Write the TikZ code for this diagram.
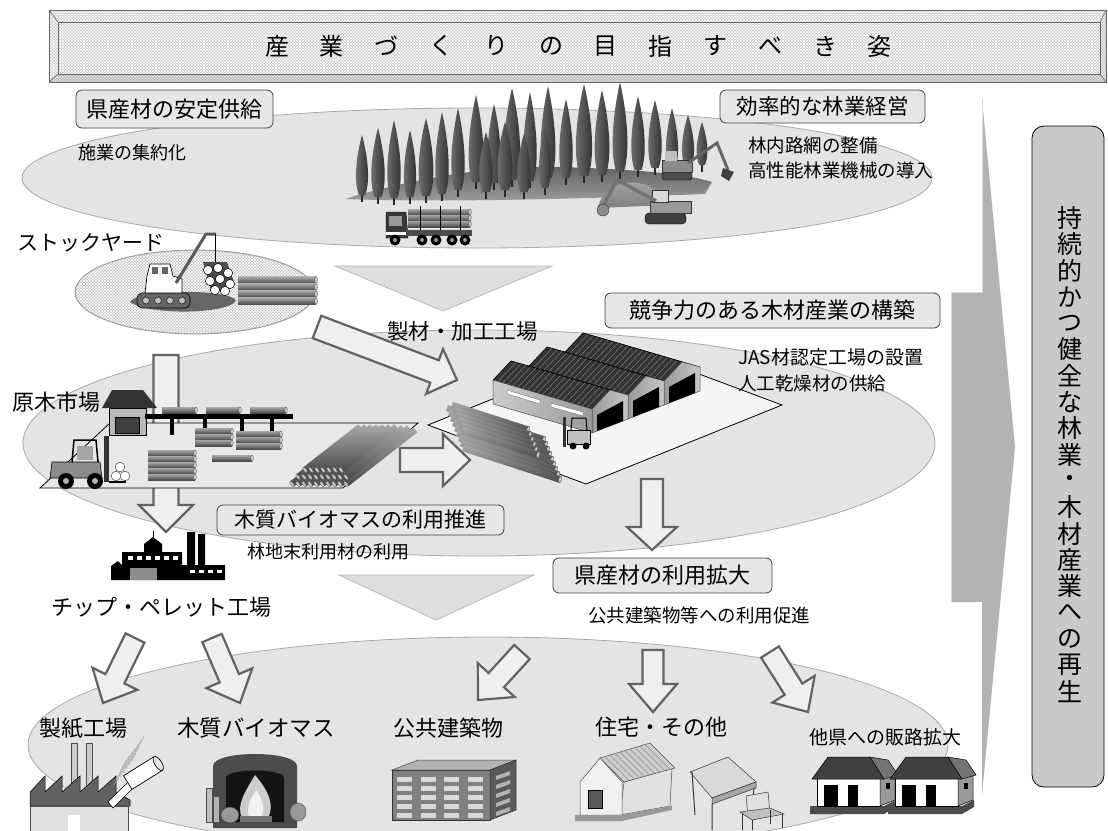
\documentclass[tikz,border=0pt]{standalone}
\usepackage{fontspec}
\setmainfont{Noto Sans CJK JP}
\usetikzlibrary{patterns}
\definecolor{ellfill}{HTML}{E4E4E4}
\definecolor{ellline}{HTML}{A8A8A8}
\definecolor{arrfill}{HTML}{EFEFEF}
\definecolor{arrline}{HTML}{626262}
\definecolor{boxfill}{HTML}{E6E6E6}
\definecolor{tri}{HTML}{DEDEDE}
\definecolor{triline}{HTML}{B8B8B8}
\definecolor{bigarr}{HTML}{B3B3B3}
\definecolor{goalbox}{HTML}{C9C9C9}
\definecolor{treeL}{HTML}{7A7A7A}
\definecolor{treeD}{HTML}{262626}
\definecolor{logL}{HTML}{A8A8A8}
\definecolor{logD}{HTML}{4A4A4A}
\definecolor{logEnd}{HTML}{CACACA}
\definecolor{bannerbase}{HTML}{C8C8C8}

\tikzset{
  blockarrow/.style={fill=arrfill, draw=arrline, line width=2.2pt, line join=miter},
  lbox/.style={draw=black!75, fill=boxfill, rounded corners=6pt, inner sep=0pt, line width=0.8pt},
  areaell/.style={fill=ellfill, draw=ellline, line width=0.8pt},
  txt/.style={inner sep=0pt, anchor=west},
  ctxt/.style={inner sep=0pt},
}
\newcommand\fs[1]{\fontsize{#1}{#1}\selectfont}

% block arrow: start x,y; tip x,y; shaft half width; head half width; head length
\newcommand\blockarr[7]{%
  \pgfmathsetmacro\baang{atan2(-(#4-#2),#3-#1)}%
  \pgfmathsetmacro\balen{veclen(#3-#1,#4-#2)}%
  \pgfmathsetmacro\bahb{\balen-#7}%
  \begin{scope}[shift={(#1,#2)}, rotate=\baang]
    \draw[blockarrow] (0,#5) -- (\bahb,#5) -- (\bahb,#6) -- (\balen,0)
      -- (\bahb,-#6) -- (\bahb,-#5) -- (0,-#5) -- cycle;
  \end{scope}}

% conifer: x, top, base, half width
\newcommand\conifer[4]{%
  \pgfmathsetmacro\ch{#3-#2}%
  \pgfmathsetmacro\cya{#2+0.3*\ch}\pgfmathsetmacro\cyb{#2+0.75*\ch}%
  \pgfmathsetmacro\cxr{#1+#4}\pgfmathsetmacro\cxl{#1-#4}%
  \pgfmathsetmacro\cxrr{#1+0.55*#4}\pgfmathsetmacro\cxll{#1-0.55*#4}%
  \pgfmathsetmacro\cbr{#1+0.35*#4}\pgfmathsetmacro\cbl{#1-0.35*#4}%
  \draw[treeD, line width=1.3pt] (#1,#3-4) -- (#1,#3+7);
  \shade[left color=treeL, right color=treeD] (#1,#2) .. controls (\cxrr,\cya) and (\cxr,\cyb) .. (\cbr,#3)
     -- (\cbl,#3) .. controls (\cxl,\cyb) and (\cxll,\cya) .. (#1,#2) -- cycle;}

% log lying along x: x from, x to (end face), y, radius
\newcommand\logpiece[4]{%
  \pgfmathsetmacro\lgr{0.45*#4}%
  \shade[top color=logL, bottom color=logD] (#1,#3-#4) rectangle (#2,#3+#4);
  \filldraw[draw=logD, fill=logEnd, line width=0.3pt] (#2,#3) ellipse [x radius=\lgr, y radius=#4];}

\begin{document}
\begin{tikzpicture}[x=1pt,y=-1pt]
\useasboundingbox (0,0) rectangle (1108,830);
\fill[white] (0,0) rectangle (1108,830);

% ---------- areas
\path[areaell] (488,745) ellipse [x radius=460, y radius=108];
\path[areaell] (479,443) ellipse [x radius=456, y radius=113];
\path[areaell] (477,178) ellipse [x radius=455, y radius=70];

% ---------- flow triangles
\filldraw[fill=tri, draw=triline, line width=0.8pt] (335,266) -- (552,266) -- (443,311) -- cycle;
\filldraw[fill=tri, draw=triline, line width=0.8pt] (339,575) -- (534,575) -- (436,620) -- cycle;

% ---------- title banner
\fill[bannerbase] (49,10) rectangle (1106,82);
\fill[pattern=crosshatch, pattern color=white] (49,10) rectangle (1106,82);
\fill[black, opacity=0.10] (49,82) -- (58,74) -- (1100,74) -- (1106,82) -- cycle;
\fill[black, opacity=0.05] (1106,10) -- (1100,22) -- (1100,74) -- (1106,82) -- cycle;
\draw[black!60, line width=0.8pt] (49,10) rectangle (1106,82);
\draw[black!60, line width=0.8pt] (58,22) rectangle (1100,74);
\draw[black!60, line width=0.6pt] (49,10) -- (58,22) (1106,10) -- (1100,22) (49,82) -- (58,74) (1106,82) -- (1100,74);
\foreach \c [count=\k from 0] in {産,業,づ,く,り,の,目,指,す,べ,き,姿}
  \node[ctxt, font=\fs{24}] (ttl\k) at (277+54.8*\k,46) {\c};

% ---------- forest
\shade[top color=black!62, bottom color=black!38] (345,199) .. controls (420,176) and (500,165) .. (560,167)
   .. controls (620,169) and (680,172) .. (712,182) -- (705,194) .. controls (600,198) and (450,203) .. (345,199) -- cycle;
\foreach \x/\t/\b/\w in {476/95/182/11, 512/88/180/12, 548/86/178/11, 584/84/176/12, 620/82/172/11,
   655/100/168/10, 688/115/166/9, 494/104/183/10, 530/92/181/10, 566/99/178/10, 602/90/175/11,
   638/96/170/10, 672/108/168/9, 702/122/165/8}
  \conifer{\x}{\t}{\b}{\w};
\shade[top color=black!30, bottom color=black!50] (598,208) .. controls (602,180) and (650,170) .. (668,205) -- cycle;
\foreach \x/\t/\b/\w in {362/135/195/9, 378/128/197/10, 394/120/198/10, 410/130/197/9, 426/118/196/11,
   442/112/194/10, 458/108/190/10, 486/132/192/10, 505/122/190/11, 524/134/192/10, 545/126/188/9}
  \conifer{\x}{\t}{\b}{\w};

% log truck
\filldraw[fill=black!78, draw=black] (386,212) -- (406,212) -- (408,238) -- (386,238) -- cycle;
\fill[black!40] (389,216) rectangle (402,226);
\fill[white] (386,232) rectangle (406,235);
\foreach \y in {212,218,224} \logpiece{408}{470}{\y}{3};
\foreach \x in {420,440,460} \draw[black, line width=1pt] (\x,206) -- (\x,232);
\fill[black!70] (406,230) rectangle (472,236);
\foreach \x in {395,422,436,452,465} {\fill[black] (\x,240) circle [radius=5.5]; \fill[black!40] (\x,240) circle [radius=2];}

% excavators
\filldraw[fill=black!70, draw=black, rounded corners=3pt] (662,172) rectangle (692,180);
\filldraw[fill=black!45, draw=black!80] (662,160) rectangle (692,172);
\fill[black!25] (665,151) rectangle (677,161);
\draw[black!60, line width=3pt] (688,163) -- (717,143) -- (728,170);
\fill[black!75] (723,168) -- (734,172) -- (729,181) -- (721,176) -- cycle;
\filldraw[fill=black!75, draw=black, rounded corners=4pt] (645,213) rectangle (686,224);
\filldraw[fill=black!40, draw=black!80] (650,201) rectangle (691,213);
\filldraw[fill=black!15, draw=black!80] (652,190) rectangle (668,202);
\draw[black!55, line width=3.5pt] (656,201) -- (617,180) -- (603,206);
\filldraw[fill=black!45, draw=black!80] (603,210) circle [radius=6];

% ---------- stockyard
\filldraw[fill=black!24, draw=black!40, line width=0.8pt] (195,292) ellipse [x radius=120, y radius=42];
\fill[pattern=crosshatch, pattern color=white] (195,292) ellipse [x radius=119, y radius=41];
\fill[black!60] (130,302) .. controls (135,290) and (225,288) .. (236,300) .. controls (232,314) and (150,316) .. (130,302) -- cycle;
\filldraw[fill=black!60, draw=black, rounded corners=5pt, line width=0.6pt] (137,293) rectangle (190,308);
\foreach \x in {146,158,170,182} \filldraw[fill=black!25, draw=black, line width=0.4pt] (\x,300.5) circle [radius=3.5];
\filldraw[fill=white, draw=black, line width=0.7pt] (147,276) -- (150,264) -- (170,264) -- (173,276) -- (182,279) -- (182,293) -- (145,293) -- cycle;
\fill[black!60] (152,267) rectangle (158,274);
\fill[black!60] (162,267) rectangle (168,274);
\draw[black!65, line width=3pt] (176,283) -- (206,234) -- (216,234);
\draw[black, line width=0.8pt] (215,234) -- (215,262);
\fill[black!70] (203,262) -- (227,262) -- (235,285) -- (212,294) -- cycle;
\foreach \x/\y in {208/270, 218/268, 228/273, 210/281, 220/279, 230/284, 215/290, 225/291}
  \filldraw[fill=white, draw=black, line width=0.5pt] (\x,\y) circle [radius=4.6];
\foreach \y in {280,287,294,301} \logpiece{238}{316}{\y}{3.3};

% ---------- log market
\blockarr{166}{355}{166}{532}{12.5}{27}{27}
\filldraw[fill=black!9, draw=black, line width=0.8pt] (40,488) -- (110,423) -- (418,423) -- (343,488) -- cycle;
\fill[black!80] (112,390) -- (143,390) -- (157,408) -- (102,408) -- cycle;
\filldraw[fill=black!28, draw=black] (109,408) rectangle (146,435);
\filldraw[fill=black!75, draw=black] (115,417) rectangle (139,433);
\fill[black] (145,414) rectangle (293,419);
\foreach \x in {172,205,242,272} \fill[black] (\x-2,419) rectangle (\x+2,435);
\logpiece{162}{196}{410}{3}
\logpiece{206}{240}{410}{3}
\logpiece{250}{286}{410}{3}
\foreach \y in {431,437,443} \logpiece{195}{232}{\y}{3};
\foreach \y in {434,440,446} \logpiece{236}{281}{\y}{3};
\foreach \y in {453,459,465,471,477} \logpiece{148}{195}{\y}{3};
\logpiece{212}{252}{458}{3}
% diagonal pile of logs
\foreach \j in {0,...,9} {
  \begin{scope}[shift={(292+6*\j,484)}, rotate=38] \logpiece{88}{0}{0}{3.2} \end{scope}}
\foreach \j in {0,...,8} {
  \begin{scope}[shift={(298+6*\j,477)}, rotate=38] \logpiece{80}{0}{0}{3.2} \end{scope}}
\foreach \j in {0,...,6} {
  \begin{scope}[shift={(305+6*\j,470)}, rotate=38] \logpiece{70}{0}{0}{3.2} \end{scope}}
% forklift
\filldraw[fill=black!45, draw=black, line width=0.6pt] (52,462) -- (100,462) -- (102,478) -- (50,478) -- cycle;
\draw[black, line width=1.5pt] (72,462) -- (74,440) -- (96,440) -- (98,462);
\fill[black!35] (77,446) rectangle (93,460);
\fill[black!80] (104,436) rectangle (109,482);
\draw[black, line width=1.5pt] (109,482) -- (126,482);
\foreach \x/\y in {116/476, 125/476, 120/467} \filldraw[fill=white, draw=black!70, line width=0.5pt] (\x,\y) circle [radius=4.8];
\foreach \x in {66,95} {\fill[black] (\x,481) circle [radius=8]; \fill[black!30] (\x,481) circle [radius=3];}

\blockarr{400}{460}{470}{460}{12}{26}{27}

% ---------- sawmill
\blockarr{317}{327}{457}{380}{12}{24}{24}
\filldraw[fill=black!4, draw=black, line width=0.8pt] (428,425) -- (624,346) -- (782,405) -- (586,484) -- cycle;
\foreach \i in {2,1,0} {
  \pgfmathsetmacro\bx{592+36*\i}
  \pgfmathsetmacro\by{433-14*\i}
  \pgfmathsetmacro\rx{\bx+36}
  \pgfmathsetmacro\ry{\by-14}
  \pgfmathsetmacro\ax{\bx+18}
  \pgfmathsetmacro\ay{\by-43}
  \pgfmathsetmacro\ely{\by-24}
  \pgfmathsetmacro\ery{\ry-24}
  \filldraw[fill=black!70, draw=black, line width=0.5pt] (\ax,\ay) -- (\rx,\ery) -- (\rx-99,\ery-29) -- (\ax-99,\ay-29) -- cycle;
  \filldraw[fill=black!80, draw=black, line width=0.5pt] (\bx,\ely) -- (\ax,\ay) -- (\ax-99,\ay-29) -- (\bx-99,\ely-29) -- cycle;
  \foreach \t in {0.05,0.1,...,0.96} \draw[black!45, line width=0.4pt] (\bx-99*\t,\ely-29*\t) -- (\ax-99*\t,\ay-29*\t);
  \shade[left color=black!40, right color=black!22] (\bx,\by) -- (\rx,\ry) -- (\rx,\ery) -- (\ax,\ay) -- (\bx,\ely) -- cycle;
  \draw[black!70, line width=0.5pt] (\bx,\by) -- (\rx,\ry) -- (\rx,\ery) -- (\ax,\ay) -- (\bx,\ely) -- cycle;
  \fill[black] (\bx+5,\by-2) -- (\rx-5,\ry+2) -- (\rx-5,\ery+6) -- (\bx+5,\ely+6) -- cycle;
}
\shade[left color=black!20, right color=black!40] (592,433) -- (592,409) -- (493,380) -- (493,404) -- cycle;
\draw[black!70, line width=0.5pt] (592,433) -- (592,409) -- (493,380) -- (493,404) -- cycle;
\filldraw[fill=white, draw=black!50, line width=0.5pt] (540,404) -- (507,394) -- (507,390) -- (540,400) -- cycle;
\filldraw[fill=white, draw=black!50, line width=0.5pt] (583,416) -- (551,407) -- (551,403) -- (583,412) -- cycle;
\foreach \j in {0,...,8} {
  \begin{scope}[shift={(447+2*\j,408+5*\j)}, rotate=-18] \logpiece{0}{102}{0}{3.3} \end{scope}}
\foreach \j in {0,...,5} {
  \begin{scope}[shift={(452+2*\j,405+5*\j)}, rotate=-18] \logpiece{0}{80}{0}{3.3} \end{scope}}
\filldraw[fill=black!25, draw=black, line width=0.5pt] (567,430) rectangle (590,444);
\draw[black, line width=1pt] (571,430) -- (572,418) -- (586,418) -- (587,430);
\fill[black!80] (563,417) rectangle (566,447);
\foreach \x in {573,586} \fill[black] (\x,446) circle [radius=3.5];

\blockarr{652}{479}{652}{550}{11}{25}{23}

% ---------- chip and pellet plant
\fill[black] (111,580) -- (111,566) -- (118,561) -- (122,565) -- (122,552) -- (144,552) -- (144,544)
   -- (153,537) -- (162,544) -- (162,552) -- (182,552) -- (182,565) -- (187,565) -- (187,532) -- (195,532)
   -- (195,565) -- (198,565) -- (198,534) -- (205,534) -- (205,565) -- (225,565) -- (225,580) -- cycle;
\draw[black, line width=1pt] (153,537) -- (153,531);
\foreach \x in {128,137,146,155,164,173} \fill[white] (\x,556) rectangle (\x+5,560);
\foreach \x in {190,199,208,217} \fill[white] (\x,570) rectangle (\x+5,573);
\fill[black!45] (130,568) rectangle (157,580);

% ---------- end uses
\blockarr{135}{638}{103}{703}{10.5}{25}{27}
\blockarr{212}{638}{240}{703}{10.5}{25}{27}
\blockarr{522}{652}{478}{700}{10.5}{25}{27}
\blockarr{653}{650}{653}{712}{10.5}{24}{28}
\blockarr{770}{652}{808}{712}{10.5}{25}{27}

% paper mill
\filldraw[fill=black!20, draw=black!70, line width=0.5pt] (71,743) rectangle (77,792);
\filldraw[fill=black!20, draw=black!70, line width=0.5pt] (86,743) rectangle (92,792);
\filldraw[fill=black!62, draw=black, line width=0.5pt] (30,806) -- (30,792) -- (45,776) -- (45,792) -- (62,776) -- (62,792)
   -- (80,776) -- (80,792) -- (98,776) -- (98,792) -- (116,776) -- (116,792) -- (130,800) -- (130,806) -- cycle;
\filldraw[fill=black!12, draw=black!70, line width=0.5pt] (30,806) rectangle (128,832);
\fill[white] (68,815) rectangle (80,832);
\foreach \k in {0,...,6} \draw[black!35, line width=0.5pt] (114+3*\k,785-4*\k) -- (126+3*\k,760-4*\k);
\filldraw[fill=white, draw=black, line width=0.6pt] (128,782) -- (108,802) -- (113,808) -- (133,788) -- cycle;
\begin{scope}[shift={(143,773)}, rotate=32]
  \filldraw[fill=white, draw=black, line width=0.7pt] (-18,-8) rectangle (18,8);
  \filldraw[fill=white!90!black, draw=black, line width=0.7pt] (18,0) ellipse [x radius=3.5, y radius=8];
\end{scope}

% fireplace
\fill[black!70] (213,828) -- (213,766) .. controls (213,750) and (297,750) .. (297,766) -- (297,828) -- cycle;
\fill[black!92] (226,822) -- (226,778) .. controls (226,768) and (284,768) .. (284,778) -- (284,822) -- cycle;
\fill[black!20] (255,775) .. controls (268,790) and (275,805) .. (268,818) -- (242,818) .. controls (236,805) and (245,792) .. (255,775) -- cycle;
\fill[white!95!black] (256,790) .. controls (263,800) and (265,810) .. (261,817) -- (249,817) .. controls (246,808) and (250,800) .. (256,790) -- cycle;
\fill[black!55] (240,816) rectangle (272,822);
\filldraw[fill=black!25, draw=black!70, line width=0.4pt] (206,788) rectangle (212,822);
\filldraw[fill=black!30, draw=black!70, line width=0.4pt] (213,796) rectangle (219,822);
\filldraw[fill=black!40, draw=black!70, line width=0.4pt] (298,812) ellipse [x radius=8, y radius=9];
\filldraw[fill=black!40, draw=black!80, line width=0.4pt] (230,815) ellipse [x radius=9, y radius=8];

% public building
\filldraw[fill=black!30, draw=black!70, line width=0.5pt] (392,770) -- (418,760) -- (516,760) -- (490,770) -- cycle;
\filldraw[fill=black!50, draw=black!80, line width=0.5pt] (392,770) rectangle (490,820);
\filldraw[fill=black!65, draw=black!80, line width=0.5pt] (490,770) -- (516,760) -- (516,810) -- (490,820) -- cycle;
\foreach \r in {0,...,4} \foreach \c in {0,...,3} \fill[white!85!black] (397+23.5*\c,777+9*\r) rectangle (412+23.5*\c,782+9*\r);
\foreach \r in {0,...,4} \fill[white!70!black] (496,776+9*\r) -- (510,771+9*\r) -- (510,775+9*\r) -- (496,780+9*\r) -- cycle;

% house
\filldraw[fill=black!12, draw=black!70, line width=0.5pt] (624,782) -- (672,768) -- (670,806) -- (620,815) -- cycle;
\filldraw[fill=black!20, draw=black!70, line width=0.5pt] (600,758) -- (650,743) -- (675,768) -- (624,782) -- cycle;
\foreach \t in {0.1,0.2,...,0.95} \draw[black!45, line width=0.4pt] (600+50*\t,758-15*\t) -- (624+51*\t,782-14*\t);
\filldraw[fill=black!6, draw=black!70, line width=0.5pt] (580,782) -- (600,758) -- (622,782) -- (622,815) -- (580,815) -- cycle;
\filldraw[fill=black!65, draw=black] (588,790) rectangle (602,808);
\fill[black!40] (575,815) -- (622,815) -- (672,806) -- (672,810) -- (622,821) -- (575,821) -- cycle;

% desk and chair
\filldraw[fill=black!15, draw=black!80, line width=0.5pt] (690,772) -- (728,757) -- (756,782) -- (712,798) -- cycle;
\filldraw[fill=black!35, draw=black!80, line width=0.5pt] (712,798) -- (756,782) -- (756,788) -- (712,804) -- cycle;
\draw[black!80, line width=1pt] (692,772) -- (695,815) (712,804) -- (712,830) (754,788) -- (752,812);
\filldraw[fill=black!12, draw=black!80, line width=0.5pt] (746,796) -- (768,792) -- (770,812) -- (748,816) -- cycle;
\filldraw[fill=black!25, draw=black!80, line width=0.5pt] (740,812) -- (770,808) -- (784,814) -- (752,820) -- cycle;
\draw[black!80, line width=1pt] (742,813) -- (742,830) (752,820) -- (752,830) (782,815) -- (782,828) (770,810) -- (770,824);

% houses for other prefectures
\foreach \dx in {0,78} {
  \fill[black!70] (810+\dx,806) -- (884+\dx,806) -- (896+\dx,800) -- (896+\dx,807) -- (884+\dx,814) -- (810+\dx,814) -- cycle;
  \filldraw[fill=white, draw=black, line width=0.5pt] (817+\dx,778) rectangle (880+\dx,806);
  \filldraw[fill=black!40, draw=black, line width=0.5pt] (880+\dx,778) -- (895+\dx,774) -- (895+\dx,800) -- (880+\dx,806) -- cycle;
  \filldraw[fill=black!75, draw=black, line width=0.5pt] (812+\dx,779) -- (828+\dx,757) -- (870+\dx,757) -- (884+\dx,779) -- cycle;
  \filldraw[fill=black!55, draw=black, line width=0.5pt] (870+\dx,757) -- (888+\dx,760) -- (898+\dx,775) -- (884+\dx,779) -- cycle;
  \fill[black] (824+\dx,785) rectangle (838+\dx,806);
  \fill[black] (848+\dx,785) rectangle (858+\dx,806);
  \fill[black] (886+\dx,783) rectangle (890+\dx,789);
}

% ---------- overall direction and goal
\fill[bigarr] (951,292) -- (982,292) -- (982,99) -- (1015,447) -- (982,795) -- (982,602) -- (951,602) -- cycle;
\draw[black!15, line width=0.8pt] (951,602) -- (951,292) -- (982,292) -- (982,99);
\draw[fill=goalbox, line width=0.8pt, rounded corners=12pt] (1032,126) rectangle (1104,787);
\foreach \c [count=\k from 0] in {持,続,的,か,つ,健,全,な,林,業,・,木,材,産,業,へ,の,再,生}
  \node[ctxt, font=\fs{25}] (g\k) at (1070,218+26.3*\k) {\c};

% ---------- labels
\node[lbox, minimum width=197pt, minimum height=38pt, font=\fs{22}] (b1) at (174.5,109) {県産材の安定供給};
\node[lbox, minimum width=205pt, minimum height=33pt, font=\fs{21.5}] (b2) at (822.5,106.5) {効率的な林業経営};
\node[lbox, minimum width=335pt, minimum height=35pt, font=\fs{22}] (b3) at (772.5,310.5) {競争力のある木材産業の構築};
\node[lbox, minimum width=287pt, minimum height=30pt, font=\fs{21}] (b4) at (360.5,520) {木質バイオマスの利用推進};
\node[lbox, minimum width=219pt, minimum height=35pt, font=\fs{22}] (b5) at (662.5,575.5) {県産材の利用拡大};

\node[txt, font=\fs{18}] (s1) at (78,153) {施業の集約化};
\node[txt, font=\fs{18.5}] (s2) at (748,145) {林内路網の整備};
\node[txt, font=\fs{18.5}] (s3) at (748,170) {高性能林業機械の導入};
\node[txt, font=\fs{21}] (s4) at (17,243) {ストックヤード};
\node[txt, font=\fs{22}] (s5) at (12,402) {原木市場};
\node[txt, font=\fs{21.5}] (s6) at (387,331) {製材・加工工場};
\node[txt, font=\fs{19}] (s7) at (738,357) {JAS材認定工場の設置};
\node[txt, font=\fs{18.5}] (s8) at (738,383) {人工乾燥材の供給};
\node[txt, font=\fs{18}] (s9) at (247,552) {林地末利用材の利用};
\node[txt, font=\fs{22}] (s10) at (51,607) {チップ・ペレット工場};
\node[txt, font=\fs{18.5}] (s11) at (588,615) {公共建築物等への利用促進};
\node[ctxt, font=\fs{22}] (u1) at (83,728) {製紙工場};
\node[ctxt, font=\fs{22.5}] (u2) at (256,728) {木質バイオマス};
\node[ctxt, font=\fs{22}] (u3) at (448,728) {公共建築物};
\node[ctxt, font=\fs{22}] (u4) at (661,727) {住宅・その他};
\node[ctxt, font=\fs{19}] (u5) at (885,737) {他県への販路拡大};
\end{tikzpicture}
\end{document}
